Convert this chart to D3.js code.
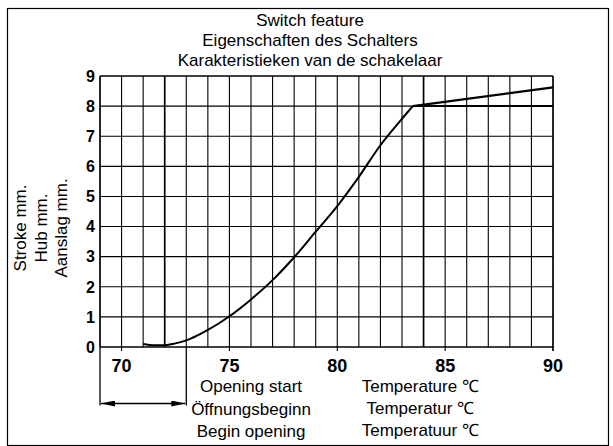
<!DOCTYPE html>
<html>
<head>
<meta charset="utf-8">
<script src="https://cdn.jsdelivr.net/npm/d3@7"></script>
<style>
  html, body { margin: 0; padding: 0; background: #fff; }
  svg { display: block; }
  text { font-family: "Liberation Sans", Arial, Helvetica, sans-serif; fill: #000; }
</style>
</head>
<body>
<svg id="chart" width="613" height="446"></svg>
<script>
// Title and axis captions (three languages)
const titleLines = ["Switch feature", "Eigenschaften des Schalters", "Karakteristieken van de schakelaar"];
const strokeLabelLines = ["Stroke mm.", "Hub mm.", "Aanslag mm."];
const openingLines = ["Opening start", "Öffnungsbeginn", "Begin opening"];
const temperatureLines = ["Temperature ℃", "Temperatur ℃", "Temperatuur ℃"];

// Axes
const tempDomain = [69, 90];
const strokeDomain = [0, 9];
const tempTicks = [70, 75, 80, 85, 90];
const strokeTicks = [0, 1, 2, 3, 4, 5, 6, 7, 8, 9];
const tempGrid = d3.range(69, 91, 1);
const heavyTempGrid = [72, 84];

// Stroke while heating: rising part up to the knee
const riseTemp   = [71, 71.5, 72, 72.5, 73, 73.5, 74, 74.5, 75, 76, 77, 78, 79, 80, 81, 82, 82.5, 83, 83.5];
const riseStroke = [0.1, 0.06, 0.06, 0.12, 0.22, 0.38, 0.57, 0.78, 1.02, 1.58, 2.22, 2.98, 3.83, 4.68, 5.65, 6.7, 7.15, 7.58, 8.0];
// Upper branch after the knee, and the 8 mm plateau
const upperTemp   = [83.5, 90];
const upperStroke = [8.0, 8.62];
const plateauTemp   = [83.5, 90];
const plateauStroke = [8.0, 8.0];

// Opening start range
const openingRange = [69, 73];

const svg = d3.select("#chart");
const x = d3.scaleLinear().domain(tempDomain).range([100, 553]);
const y = d3.scaleLinear().domain(strokeDomain).range([347, 76]);

// Outer frame
svg.append("rect")
  .attr("x", 7.5).attr("y", 8.5).attr("width", 601).attr("height", 437)
  .attr("fill", "none").attr("stroke", "#000").attr("stroke-width", 1.2);

// Title
svg.append("g").selectAll("text").data(titleLines).join("text")
  .attr("x", 310).attr("y", (d, i) => 25.5 + i * 20.3)
  .attr("text-anchor", "middle").attr("font-size", 17)
  .text(d => d);

// Grid
const grid = svg.append("g").attr("stroke", "#000").attr("fill", "none");
grid.selectAll("line.h").data(strokeTicks).join("line")
  .attr("class", "h")
  .attr("x1", x(tempDomain[0])).attr("x2", x(tempDomain[1]))
  .attr("y1", d => y(d)).attr("y2", d => y(d))
  .attr("stroke-width", d => (d === 0 || d === 9) ? 1.6 : 1.1);
grid.selectAll("line.v").data(tempGrid).join("line")
  .attr("class", "v")
  .attr("x1", d => x(d)).attr("x2", d => x(d))
  .attr("y1", y(strokeDomain[1]))
  .attr("y2", d => tempTicks.includes(d) ? y(0) + 4 : y(0))
  .attr("stroke-width", d => (d === 69 || d === 90 || heavyTempGrid.includes(d)) ? 1.7 : 1.1);

// Y tick labels
svg.append("g").selectAll("text").data(strokeTicks).join("text")
  .attr("x", 95).attr("y", d => y(d)).attr("dy", "0.36em")
  .attr("text-anchor", "end").attr("font-size", 16).attr("font-weight", "bold")
  .text(d => d);

// X tick labels
svg.append("g").selectAll("text").data(tempTicks).join("text")
  .attr("x", d => x(d)).attr("y", 371.5)
  .attr("text-anchor", "middle").attr("font-size", 18).attr("font-weight", "bold")
  .text(d => d);

// Y axis caption (rotated)
svg.append("g").selectAll("text").data(strokeLabelLines).join("text")
  .attr("transform", (d, i) => `translate(${26 + i * 20.5},228) rotate(-90)`)
  .attr("text-anchor", "middle").attr("font-size", 17)
  .text(d => d);

// Curve
const line = d3.line().x(d => x(d[0])).y(d => y(d[1]));
svg.append("path")
  .datum(d3.zip(riseTemp, riseStroke))
  .attr("d", line.curve(d3.curveMonotoneX))
  .attr("fill", "none").attr("stroke", "#000").attr("stroke-width", 2);
svg.append("path")
  .attr("d", d3.line().x(d => x(d[0])).y(d => y(d[1]))(d3.zip(upperTemp, upperStroke)))
  .attr("fill", "none").attr("stroke", "#000").attr("stroke-width", 2.2);
svg.append("path")
  .attr("d", d3.line().x(d => x(d[0])).y(d => y(d[1]))(d3.zip(plateauTemp, plateauStroke)))
  .attr("fill", "none").attr("stroke", "#000").attr("stroke-width", 2);

// Opening start dimension bracket
const defs = svg.append("defs");
defs.append("marker")
  .attr("id", "arrow").attr("viewBox", "0 0 14 6")
  .attr("refX", 14).attr("refY", 3)
  .attr("markerWidth", 14).attr("markerHeight", 6)
  .attr("markerUnits", "userSpaceOnUse")
  .attr("orient", "auto-start-reverse")
  .append("path").attr("d", "M0,0 L14,3 L0,6 Z").attr("fill", "#000");

const bracket = svg.append("g").attr("stroke", "#000").attr("fill", "none");
const arrowY = 403.5;
openingRange.forEach(t => {
  bracket.append("line")
    .attr("x1", x(t)).attr("x2", x(t))
    .attr("y1", y(0)).attr("y2", arrowY + 2)
    .attr("stroke-width", 1.3);
});
bracket.append("line")
  .attr("x1", x(openingRange[0]) + 1).attr("x2", x(openingRange[1]) - 1)
  .attr("y1", arrowY).attr("y2", arrowY)
  .attr("stroke-width", 1.3)
  .attr("marker-start", "url(#arrow)").attr("marker-end", "url(#arrow)");

// Bottom captions
svg.append("g").selectAll("text").data(openingLines).join("text")
  .attr("x", x(76)).attr("y", (d, i) => 392 + i * 22.5)
  .attr("text-anchor", "middle").attr("font-size", 17)
  .text(d => d);
svg.append("g").selectAll("text").data(temperatureLines).join("text")
  .attr("x", x(83.85)).attr("y", (d, i) => 392 + i * 22)
  .attr("text-anchor", "middle").attr("font-size", 17)
  .text(d => d);
</script>
</body>
</html>
